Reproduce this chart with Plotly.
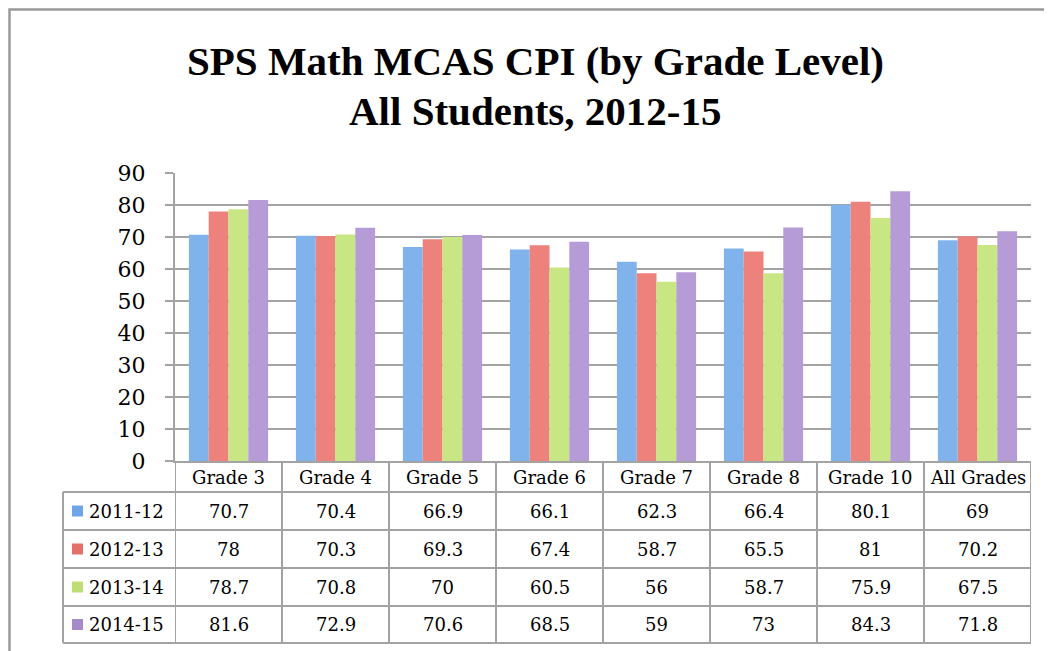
import plotly.graph_objects as go

categories = ["Grade 3", "Grade 4", "Grade 5", "Grade 6", "Grade 7", "Grade 8", "Grade 10", "All Grades"]
series_names = ["2011-12", "2012-13", "2013-14", "2014-15"]
v_2011_12 = [70.7, 70.4, 66.9, 66.1, 62.3, 66.4, 80.1, 69]
v_2012_13 = [78, 70.3, 69.3, 67.4, 58.7, 65.5, 81, 70.2]
v_2013_14 = [78.7, 70.8, 70, 60.5, 56, 58.7, 75.9, 67.5]
v_2014_15 = [81.6, 72.9, 70.6, 68.5, 59, 73, 84.3, 71.8]
series_values = [v_2011_12, v_2012_13, v_2013_14, v_2014_15]
y_ticks = [0, 10, 20, 30, 40, 50, 60, 70, 80, 90]

colors = ["#80B3EC", "#EC827B", "#C9E684", "#B59CD6"]
key_colors = ["#6FA5E6", "#E4706A", "#BEDD74", "#A68BCB"]

# the page body has an 8px margin; work in window pixels and shift
OFF = 8
W, H = 1052 - OFF, 651 - OFF
L, R, T, B = 175 - OFF, 21, 173 - OFF, 190
PW, PH = W - L - R, H - T - B


def px(x):
    return (x - OFF - L) / PW


def py(y):
    return (H - B - (y - OFF)) / PH


GRID = "#A3A3A3"
SERIF = "DejaVu Serif"

fig = go.Figure()
for name, vals, col in zip(series_names, series_values, colors):
    fig.add_trace(go.Bar(name=name, x=categories, y=vals, marker=dict(color=col, line=dict(width=0)),
                         showlegend=False))

shapes = []
annotations = []

# outer frame
shapes.append(dict(type="rect", xref="paper", yref="paper", x0=px(9.5), x1=px(1080), y0=py(9.5), y1=py(680),
                   line=dict(color="#999999", width=2.5), fillcolor="rgba(0,0,0,0)", layer="below"))

# data table rows (window pixel rows)
header_top, header_bot = 461, 492
row_edges = [492, 530, 568, 606, 643]
table_left, key_left = 63, 72

for yy in row_edges:
    shapes.append(dict(type="line", xref="paper", yref="paper", x0=px(table_left), x1=1.0,
                       y0=py(yy), y1=py(yy), line=dict(color=GRID, width=2)))
n = len(categories)
for k in range(n + 1):
    shapes.append(dict(type="line", xref="x", yref="paper", x0=k - 0.5, x1=k - 0.5,
                       y0=py(header_top), y1=py(row_edges[-1]), line=dict(color=GRID, width=2)))
shapes.append(dict(type="line", xref="paper", yref="paper", x0=px(table_left), x1=px(table_left),
                   y0=py(header_bot), y1=py(row_edges[-1]), line=dict(color=GRID, width=2)))

for c in categories:
    annotations.append(dict(x=c, y=py((header_top + header_bot) / 2 + 1), xref="x", yref="paper", text=c,
                            showarrow=False, font=dict(family=SERIF, size=18, color="black"),
                            xanchor="center", yanchor="middle"))

for i, (name, vals) in enumerate(zip(series_names, series_values)):
    yc = (row_edges[i] + row_edges[i + 1]) / 2
    shapes.append(dict(type="rect", xref="paper", yref="paper", x0=px(key_left), x1=px(key_left + 11),
                       y0=py(yc - 5.5), y1=py(yc + 5.5), fillcolor=key_colors[i], line=dict(width=0)))
    annotations.append(dict(x=px(key_left + 15), y=py(yc), xref="paper", yref="paper", text=name,
                            showarrow=False, font=dict(family=SERIF, size=18, color="black"),
                            xanchor="left", yanchor="middle"))
    for c, v in zip(categories, vals):
        annotations.append(dict(x=c, y=py(yc), xref="x", yref="paper", text=f"{v:g}",
                                showarrow=False, font=dict(family=SERIF, size=18, color="black"),
                                xanchor="center", yanchor="middle"))

TITLE_FONT = dict(family="Liberation Serif", size=41, color="black")
annotations.append(dict(x=px(535), y=py(61), xref="paper", yref="paper",
                        text="<b>SPS Math MCAS CPI (by Grade Level)</b>", showarrow=False,
                        font=TITLE_FONT, xanchor="center", yanchor="middle"))
annotations.append(dict(x=px(535), y=py(111), xref="paper", yref="paper",
                        text="<b>All Students, 2012-15</b>", showarrow=False,
                        font=TITLE_FONT, xanchor="center", yanchor="middle"))

fig.update_layout(
    width=W, height=H,
    margin=dict(l=L, r=R, t=T, b=B),
    paper_bgcolor="white", plot_bgcolor="white",
    barmode="group", bargap=0.26, bargroupgap=0,
    shapes=shapes, annotations=annotations,
    xaxis=dict(type="category", range=[-0.5, n - 0.5], showticklabels=False, ticks="",
               showgrid=False, showline=True, linecolor=GRID, linewidth=2, zeroline=False),
    yaxis=dict(range=[0, 90], tickvals=y_ticks, ticks="outside", ticklen=8, tickcolor=GRID,
               tickwidth=2, showgrid=True, gridcolor=GRID, gridwidth=2, showline=True,
               linecolor=GRID, linewidth=2, zeroline=False, ticklabelstandoff=15,
               tickfont=dict(family=SERIF, size=22, color="black")),
)

fig.write_html("out.html")
